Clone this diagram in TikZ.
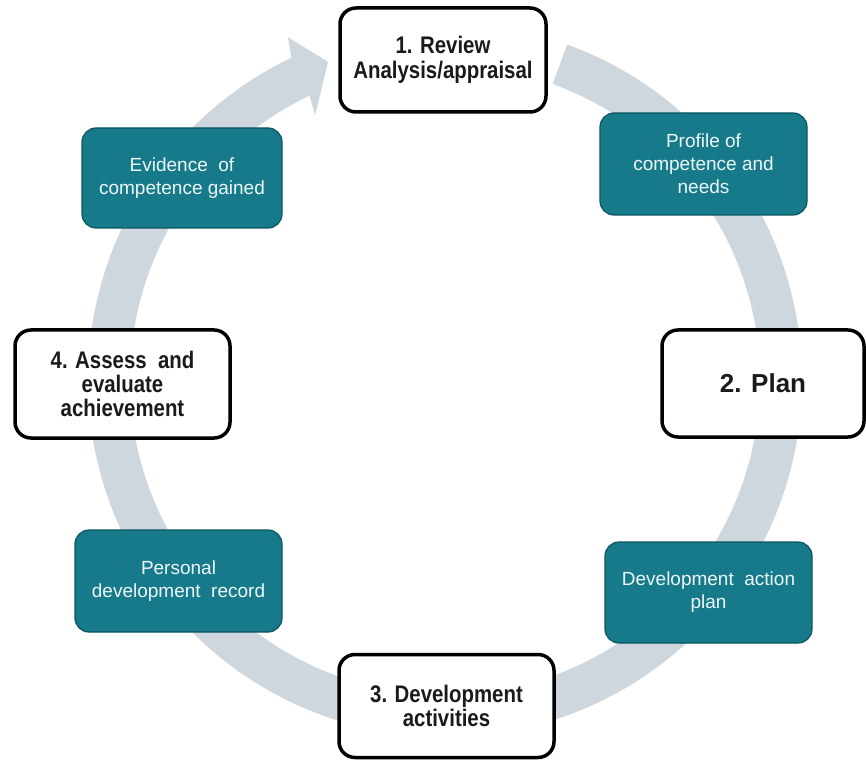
\documentclass[tikz,border=0pt]{standalone}
\usepackage{fontspec}
\setmainfont{Liberation Sans}
\newfontfamily\condfont[FakeStretch=0.85]{Liberation Sans}
\definecolor{ringc}{HTML}{CFD7DE}
\definecolor{tealfill}{HTML}{177A8B}
\definecolor{tealdraw}{HTML}{0D5563}
\definecolor{tealtext}{HTML}{EEF7F8}
\definecolor{darktext}{HTML}{1A1A1A}
\tikzset{
  ringarrow/.style={fill=ringc, draw=none},
  whitebox/.style={draw=black, line width=3.5pt, rounded corners=16pt, fill=white,
    align=center, text=darktext, inner sep=0pt,
    font=\condfont\bfseries\fontsize{24}{24}\selectfont},
  tealbox/.style={draw=tealdraw, line width=1.2pt, rounded corners=14pt, fill=tealfill,
    align=center, text=tealtext, inner sep=0pt,
    font=\fontsize{19}{23}\selectfont},
}
\begin{document}
\begin{tikzpicture}[x=1pt,y=1pt]
\useasboundingbox (0,0) rectangle (866,761);
\fill[white] (0,0) rectangle (866,761);
% circular arrow
\begin{scope}[shift={(445,381)}]
\path[ringarrow] (70:357) arc[start angle=70, end angle=-244.5, radius=357]
  -- (114.6:377) -- (110.2:339) -- (116.1:295) -- (115.5:315)
  arc[start angle=-244.5, end angle=70, radius=315] -- cycle;
\end{scope}
% white step boxes
\node[whitebox, minimum width=206, minimum height=104] (review) at (443,701)
  {1. Review\\[1pt]Analysis/appraisal};
\node[whitebox, minimum width=202, minimum height=107,
  font=\bfseries\fontsize{26}{26}\selectfont] (plan) at (763,377.5) {2. Plan};
\node[whitebox, minimum width=215, minimum height=103] (devact) at (446.5,55)
  {3. Development\\activities};
\node[whitebox, minimum width=215, minimum height=108] (assess) at (122.5,377)
  {4. Assess\ \ and\\evaluate\\achievement};
% teal boxes
\node[tealbox, minimum width=207, minimum height=102] (profile) at (703.5,597)
  {Profile of\\competence and\\needs};
\node[tealbox, minimum width=207, minimum height=101] (dap) at (708.5,168.5)
  {Development\ \ action\\plan};
\node[tealbox, minimum width=207, minimum height=102] (pdr) at (178.5,180)
  {Personal\\development\ \ record};
\node[tealbox, minimum width=200, minimum height=100] (evidence) at (182,583)
  {Evidence\ \ of\\competence gained};
\end{tikzpicture}
\end{document}
